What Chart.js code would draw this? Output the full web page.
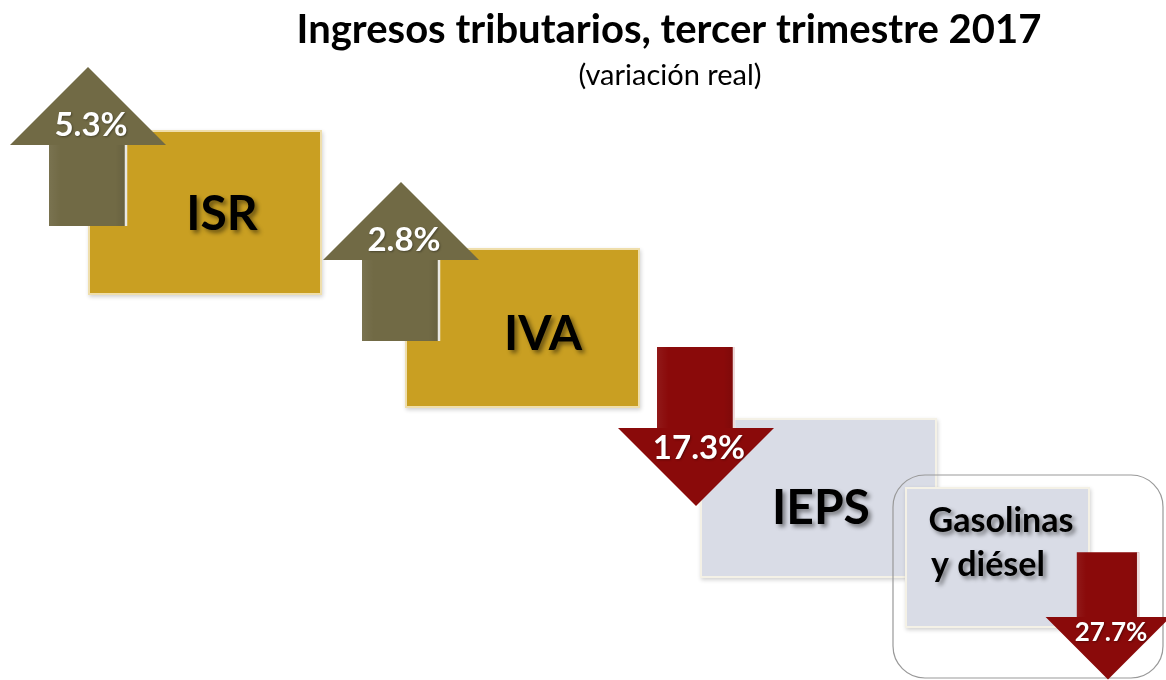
<!DOCTYPE html>
<html>
<head>
<meta charset="utf-8">
<script src="https://cdn.jsdelivr.net/npm/chart.js@4.4.0/dist/chart.umd.min.js"></script>
<style>
  body { margin: 0; background: #fff; }
  #wrap { width: 1166px; height: 680px; }
</style>
</head>
<body>
<div id="wrap"><canvas id="taxChart" width="1166" height="680"></canvas></div>
<script>
// data
const categories = ['ISR', 'IVA', 'IEPS', 'Gasolinas y diésel'];
const realChange = [5.3, 2.8, -17.3, -27.7];
const valueLabels = ['5.3%', '2.8%', '17.3%', '27.7%'];
const titleText = 'Ingresos tributarios, tercer trimestre 2017';
const subtitleText = '(variación real)';

// layout (in scale units, x 0..1166, y 0..680 top-down)
const boxRects = [[88, 130, 322, 295], [405, 248, 640, 408], [700, 418, 937, 578], [905, 487, 1090, 628]];
const boxLabelPos = [[222, 215], [543, 335], [821, 509], [997, 543]];
const boxFill = ['#c99f22', '#c99f22', '#d9dce6', '#d9dce6'];
const arrowPos = [[88, 145, 1], [401, 260, 1], [696, 428, 1], [1108, 617, 0.8]];
const arrowFill = { up: '#716a45', down: '#8a0a0a' };

const arrowsPlugin = {
  id: 'stepArrows',
  afterDatasetsDraw(chart) {
    const ctx = chart.ctx;
    const sx = chart.scales.x, sy = chart.scales.y;
    const px = v => sx.getPixelForValue(v);
    const py = v => sy.getPixelForValue(v);

    function box(i) {
      const r = boxRects[i];
      const x0 = px(r[0]), y0 = py(r[1]), x1 = px(r[2]), y1 = py(r[3]);
      ctx.save();
      ctx.shadowColor = 'rgba(0,0,0,0.18)';
      ctx.shadowBlur = 4;
      ctx.shadowOffsetX = 1;
      ctx.shadowOffsetY = 2;
      ctx.fillStyle = boxFill[i];
      ctx.fillRect(x0, y0, x1 - x0, y1 - y0);
      ctx.restore();
      ctx.save();
      ctx.strokeStyle = 'rgba(255,250,230,0.7)';
      ctx.lineWidth = 2;
      ctx.strokeRect(x0 + 1, y0 + 1, x1 - x0 - 2, y1 - y0 - 2);
      ctx.restore();

      // label
      ctx.save();
      ctx.fillStyle = '#000';
      ctx.textAlign = 'center';
      ctx.textBaseline = 'middle';
      ctx.shadowColor = 'rgba(0,0,0,0.45)';
      ctx.shadowBlur = 4;
      ctx.shadowOffsetX = 3;
      ctx.shadowOffsetY = 3;
      const lp = boxLabelPos[i];
      if (i === 3) {
        ctx.font = 'bold 34px Lato';
        ctx.fillText('Gasolinas', px(lp[0] + 4), py(lp[1] - 22), 146);
        ctx.fillText('y diésel', px(lp[0] - 9), py(lp[1] + 22));
      } else {
        ctx.font = 'bold 48px Lato';
        ctx.fillText(categories[i], px(lp[0]), py(lp[1]));
      }
      ctx.restore();
    }

    function arrow(i) {
      const [cx, base, s] = arrowPos[i];
      const up = realChange[i] >= 0;
      const d = up ? -1 : 1;
      const hw = 78 * s, hh = 78 * s, sw = 39 * s, sl = 81 * s;
      const col = up ? arrowFill.up : arrowFill.down;
      const shaftA = base, shaftB = base - d * sl;
      ctx.save();
      ctx.beginPath();
      ctx.moveTo(px(cx), py(base + d * hh));
      ctx.lineTo(px(cx + hw), py(base));
      ctx.lineTo(px(cx + sw), py(base));
      ctx.lineTo(px(cx + sw), py(shaftB));
      ctx.lineTo(px(cx - sw), py(shaftB));
      ctx.lineTo(px(cx - sw), py(base));
      ctx.lineTo(px(cx - hw), py(base));
      ctx.closePath();
      ctx.fillStyle = col;
      ctx.fill();
      // soft bevel on shaft
      const g = ctx.createLinearGradient(px(cx - sw), 0, px(cx + sw), 0);
      g.addColorStop(0, 'rgba(255,255,255,0.06)');
      g.addColorStop(0.15, 'rgba(255,255,255,0)');
      g.addColorStop(0.85, 'rgba(0,0,0,0)');
      g.addColorStop(0.97, 'rgba(0,0,0,0.08)');
      g.addColorStop(1, 'rgba(0,0,0,0)');
      ctx.fillStyle = g;
      const ya = Math.min(py(shaftA), py(shaftB)), yb = Math.max(py(shaftA), py(shaftB));
      ctx.fillRect(px(cx - sw), ya, px(cx + sw) - px(cx - sw), yb - ya);
      ctx.strokeStyle = 'rgba(255,255,255,0.85)';
      ctx.lineWidth = 2.5;
      ctx.beginPath();
      ctx.moveTo(px(cx + sw) - 1, py(base));
      ctx.lineTo(px(cx + sw) - 1, py(shaftB));
      ctx.stroke();
      ctx.restore();

      // value label
      ctx.save();
      ctx.fillStyle = '#fff';
      ctx.textAlign = 'center';
      ctx.textBaseline = 'middle';
      ctx.shadowColor = 'rgba(0,0,0,0.35)';
      ctx.shadowBlur = 2;
      ctx.shadowOffsetX = 1;
      ctx.shadowOffsetY = 1;
      ctx.font = 'bold ' + Math.round(33 * s) + 'px Lato';
      ctx.fillText(valueLabels[i], px(cx + 3), py(base + d * 20 * s));
      ctx.restore();
    }

    box(0); arrow(0);
    box(1); arrow(1);
    box(2); arrow(2);

    // rounded frame around the gasoline detail
    ctx.save();
    ctx.strokeStyle = '#999';
    ctx.lineWidth = 1.2;
    ctx.beginPath();
    ctx.roundRect(px(893), py(475), px(1163) - px(893), py(678) - py(475), 32);
    ctx.stroke();
    ctx.restore();

    box(3); arrow(3);

    // titles
    ctx.save();
    ctx.fillStyle = '#000';
    ctx.textAlign = 'center';
    ctx.textBaseline = 'alphabetic';
    ctx.font = 'bold 40px Lato';
    ctx.fillText(titleText, px(669), py(43), 756);
    ctx.font = '29px Lato';
    ctx.fillText(subtitleText, px(670), py(85), 205);
    ctx.restore();
  }
};

new Chart(document.getElementById('taxChart'), {
  type: 'scatter',
  data: {
    labels: categories,
    datasets: [{
      label: 'Variación real (%)',
      data: arrowPos.map((p, i) => ({ x: p[0], y: p[1] })),
      pointRadius: 0
    }]
  },
  options: {
    responsive: false,
    devicePixelRatio: 1,
    animation: false,
    layout: { padding: 0 },
    plugins: {
      legend: { display: false },
      tooltip: { enabled: false }
    },
    scales: {
      x: { type: 'linear', min: 0, max: 1166, display: false },
      y: { type: 'linear', min: 0, max: 680, reverse: true, display: false }
    }
  },
  plugins: [arrowsPlugin]
});
</script>
</body>
</html>
